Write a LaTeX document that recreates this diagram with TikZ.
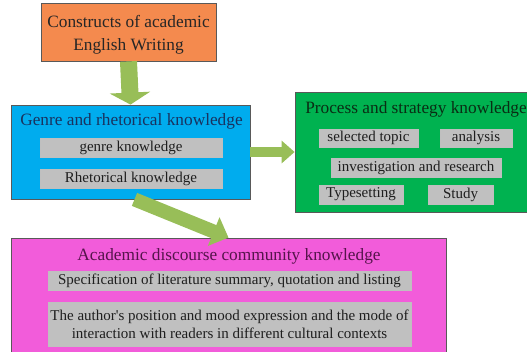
\documentclass[tikz,border=0pt]{standalone}
\usepackage{fontspec}
\setmainfont{Liberation Serif}
\usetikzlibrary{arrows.meta}
\definecolor{orangebox}{RGB}{244,138,78}
\definecolor{bluebox}{RGB}{0,172,238}
\definecolor{greenbox}{RGB}{0,178,80}
\definecolor{pinkbox}{RGB}{242,92,218}
\definecolor{greyitem}{RGB}{192,192,192}
\definecolor{arrowgreen}{RGB}{152,190,88}
\definecolor{navytext}{RGB}{25,50,95}
\definecolor{greentext}{RGB}{10,45,20}
\definecolor{purpletext}{RGB}{85,20,75}
\definecolor{itemtext}{RGB}{30,30,30}
\begin{document}
\begin{tikzpicture}[x=1pt,y=-1pt,
  cbox/.style={draw=black!65,line width=0.8pt,inner sep=0pt,minimum width=#1},
  itembox/.style={fill=greyitem,draw=black!25,line width=0.6pt,inner sep=0pt,minimum width=#1,minimum height=19pt,
    font=\fontsize{15}{18}\selectfont,text=itemtext,align=center},
  titletext/.style={inner sep=0pt,font=\fontsize{17.3}{23}\selectfont,align=center},
  fatarrow/.style={draw=arrowgreen,line width=#1}
]
\useasboundingbox (0,0) rectangle (527,351);

% main boxes
\node[cbox=175pt,minimum height=58pt,fill=orangebox] (orange) at (128.5,32) {};
\node[cbox=239pt,minimum height=94pt,fill=bluebox] (blue) at (130.5,152) {};
\node[cbox=236pt,minimum height=120pt,fill=greenbox] (green) at (413,152) {};
\node[cbox=435pt,minimum height=116pt,fill=pinkbox] (pink) at (228.5,296) {};

% titles
\node[titletext,text=black!85] (orangetitle) at (128.5,34.5) {Constructs of academic\\English Writing};
\node[titletext,text=navytext] (bluetitle) at (131.5,121) {Genre and rhetorical knowledge};
\node[titletext,text=greentext] (greentitle) at (416,109) {Process and strategy knowledge};
\node[titletext,text=purpletext] (pinktitle) at (229,256) {Academic discourse community knowledge};

% items
\node[itembox=182pt] (genre) at (131,147.5) {genre knowledge};
\node[itembox=182pt] (rhet) at (131,178.5) {Rhetorical knowledge};
\node[itembox=99pt,minimum height=18pt] (topic) at (368.5,138) {selected topic};
\node[itembox=72pt,minimum height=18pt] (analysis) at (476,138) {analysis};
\node[itembox=170pt] (invest) at (416,167.5) {investigation and research};
\node[itembox=84pt] (typeset) at (361,194.5) {Typesetting};
\node[itembox=65pt] (study) at (460.5,194.5) {Study};
\node[itembox=363pt] (spec) at (229.5,280.5) {Specification of literature summary, quotation and listing};
\node[itembox=363pt,minimum height=44pt] (author) at (229.5,324) {The author\textquotesingle s position and mood expression and the mode of\\interaction with readers in different cultural contexts};

% fat arrows
\draw[fatarrow=17pt,-{Triangle[width=40pt,length=12pt,fill=arrowgreen]}] (orange.south) -- (blue.north);
\draw[fatarrow=10pt,-{Triangle[width=22pt,length=13pt,fill=arrowgreen]}] (blue.east) -- (green.west);
\draw[fatarrow=14pt,-{Triangle[width=30pt,length=16pt,fill=arrowgreen]}] ([xshift=4pt]blue.south) -- (pink.north);
\end{tikzpicture}
\end{document}
